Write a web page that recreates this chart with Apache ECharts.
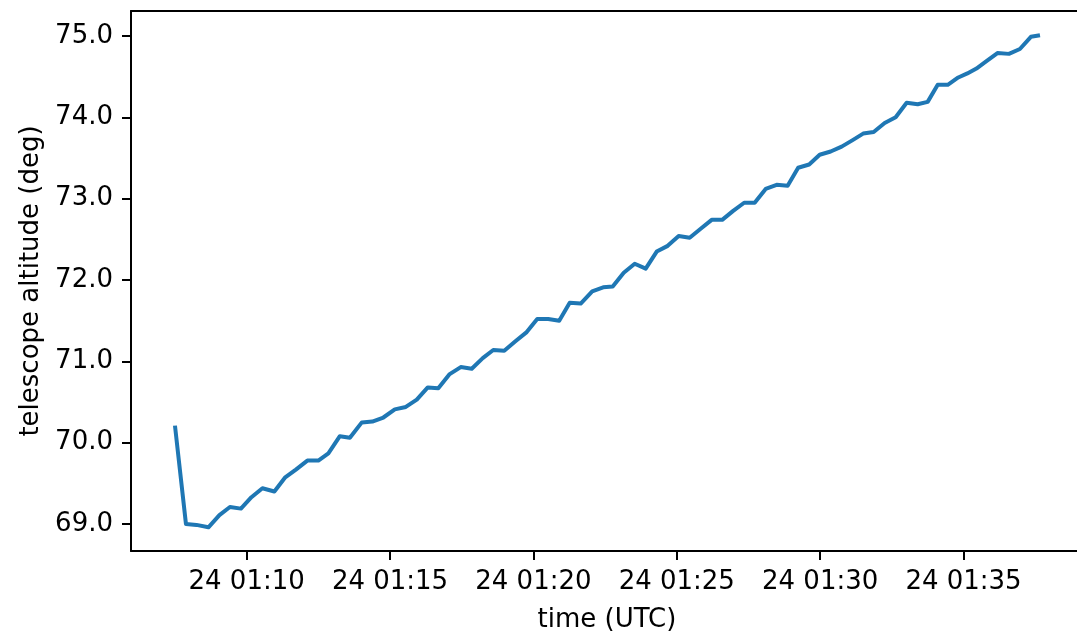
<!DOCTYPE html>
<html>
<head>
<meta charset="utf-8">
<script src="https://cdn.jsdelivr.net/npm/echarts@6/dist/echarts.min.js"></script>
<style>
html,body{margin:0;padding:0;background:#fff;overflow:hidden;width:1077px;height:638px;}
#chart{width:1100px;height:638px;}
</style>
</head>
<body>
<div id="chart"></div>
<script>
// ---- data ----
const day = "2024-01-24";
const times = [
"01:07:30","01:07:53","01:08:15","01:08:40","01:09:03","01:09:25","01:09:48","01:10:10",
"01:10:33","01:10:58","01:11:20","01:11:43","01:12:07","01:12:30","01:12:51","01:13:15",
"01:13:36","01:14:01","01:14:23","01:14:46","01:15:10","01:15:33","01:15:56","01:16:19",
"01:16:41","01:17:04","01:17:28","01:17:51","01:18:14","01:18:36","01:18:59","01:19:23",
"01:19:46","01:20:08","01:20:31","01:20:54","01:21:16","01:21:39","01:22:03","01:22:26",
"01:22:46","01:23:09","01:23:32","01:23:55","01:24:18","01:24:41","01:25:04","01:25:27",
"01:25:50","01:26:13","01:26:35","01:26:58","01:27:21","01:27:43","01:28:06","01:28:29",
"01:28:52","01:29:14","01:29:37","01:29:59","01:30:22","01:30:45","01:31:08","01:31:30",
"01:31:52","01:32:15","01:32:38","01:33:01","01:33:24","01:33:45","01:34:06","01:34:27",
"01:34:49","01:35:08","01:35:27","01:35:48","01:36:11","01:36:35","01:36:58","01:37:21",
"01:37:40"
];
const altitude = [
70.21,69.00,68.99,68.96,69.11,69.21,69.19,69.33,
69.44,69.40,69.57,69.67,69.78,69.78,69.87,70.08,
70.06,70.25,70.26,70.31,70.41,70.44,70.53,70.68,
70.67,70.84,70.93,70.91,71.04,71.14,71.13,71.25,
71.36,71.52,71.52,71.50,71.72,71.71,71.86,71.91,
71.92,72.09,72.20,72.14,72.35,72.42,72.54,72.52,
72.63,72.74,72.74,72.85,72.95,72.95,73.12,73.17,
73.16,73.38,73.42,73.54,73.58,73.64,73.72,73.80,
73.82,73.93,74.00,74.18,74.16,74.19,74.40,74.40,
74.49,74.54,74.60,74.69,74.79,74.78,74.84,74.99,
75.01
];
const xTickTimes = ["01:10:00","01:15:00","01:20:00","01:25:00","01:30:00","01:35:00"];
const xTickLabels = ["24 01:10","24 01:15","24 01:20","24 01:25","24 01:30","24 01:35"];
const yTickValues = [69,70,71,72,73,74,75];
const yTickLabels = ["69.0","70.0","71.0","72.0","73.0","74.0","75.0"];
const xRange = ["01:05:58","01:39:10"];
const yRange = [68.669, 75.307];
const xTitle = "time (UTC)";
const yTitle = "telescope altitude (deg)";

// ---- helpers ----
function ts(hms){
  const [Y,M,D] = day.split("-").map(Number);
  const [h,m,s] = hms.split(":").map(Number);
  return Date.UTC(Y, M-1, D, h, m, s);
}
const seriesData = times.map((t,i)=>[ts(t), altitude[i]]);
const xTickVals = xTickTimes.map(ts);

const FONT = "DejaVu Sans";
const chart = echarts.init(document.getElementById('chart'), null, {renderer:'canvas'});
chart.setOption({
  animation:false,
  backgroundColor:'#ffffff',
  grid:{left:131, top:11, width:952, height:543, show:false},
  xAxis:[{
    type:'value',
    min:ts(xRange[0]), max:ts(xRange[1]),
    splitLine:{show:false},
    axisLine:{show:true, lineStyle:{color:'#000', width:2}},
    axisTick:{show:true, inside:false, length:9, lineStyle:{color:'#000', width:2}, customValues:xTickVals},
    axisLabel:{customValues:xTickVals, margin:18, color:'#000', fontFamily:FONT, fontSize:26,
      formatter:(v)=>{const i = xTickVals.indexOf(v); return i>=0 ? xTickLabels[i] : '';}},
    name:xTitle, nameLocation:'middle', nameGap:56,
    nameTextStyle:{color:'#000', fontFamily:FONT, fontSize:26}
  },{
    type:'value', position:'top',
    min:ts(xRange[0]), max:ts(xRange[1]),
    splitLine:{show:false},
    axisLine:{show:true, onZero:false, lineStyle:{color:'#000', width:2}},
    axisTick:{show:false}, axisLabel:{show:false}
  }],
  yAxis:{
    type:'value',
    min:yRange[0], max:yRange[1],
    splitLine:{show:false},
    axisLine:{show:true, lineStyle:{color:'#000', width:2}},
    axisTick:{show:true, inside:false, length:9, lineStyle:{color:'#000', width:2}, customValues:yTickValues},
    axisLabel:{customValues:yTickValues, margin:18, color:'#000', fontFamily:FONT, fontSize:26,
      formatter:(v)=>{const i = yTickValues.indexOf(Math.round(v)); return i>=0 ? yTickLabels[i] : '';}},
    name:yTitle, nameLocation:'middle', nameGap:86, nameRotate:90,
    nameTextStyle:{color:'#000', fontFamily:FONT, fontSize:26}
  },
  series:[{
    type:'line', data:seriesData, showSymbol:false, symbol:'none',
    xAxisIndex:0,
    lineStyle:{color:'#1f77b4', width:4, join:'round', cap:'butt'},
    clip:true
  }]
});
</script>
</body>
</html>
